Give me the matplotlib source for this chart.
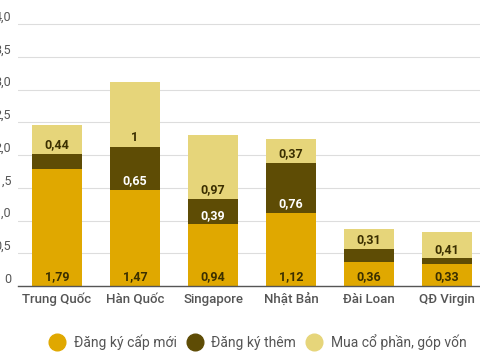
import matplotlib
matplotlib.use("Agg")
import matplotlib.pyplot as plt
import matplotlib.transforms as mtransforms
from matplotlib.lines import Line2D

plt.rcParams['font.family'] = ['Roboto', 'DejaVu Sans']

countries = ["Trung Quốc", "Hàn Quốc", "Singapore", "Nhật Bản", "Đài Loan", "QĐ Virgin"]
new_reg = [1.79, 1.47, 0.94, 1.12, 0.36, 0.33]
added_reg = [0.23, 0.65, 0.39, 0.76, 0.20, 0.09]
shares = [0.44, 1.00, 0.97, 0.37, 0.31, 0.41]
series_names = ["Đăng ký cấp mới", "Đăng ký thêm", "Mua cổ phần, góp vốn"]
yticks = [0, 0.5, 1.0, 1.5, 2.0, 2.5, 3.0, 3.5, 4.0]

colors = ["#e0a800", "#5e4c05", "#e6d57a"]
text_colors = ["#3b2f00", "#ffffff", "#3b2f00"]

fig = plt.figure(figsize=(4.8, 3.6), dpi=100)
ax = fig.add_axes([18 / 480, 74 / 360, 468 / 480, 286 / 360])

x = list(range(len(countries)))
width = 0.63
bottoms = [0] * len(countries)
for vals, col, tcol in zip([new_reg, added_reg, shares], colors, text_colors):
    ax.bar(x, vals, width, bottom=bottoms, color=col, zorder=2)
    for i, v in enumerate(vals):
        # small segments carry no label in the reference
        if v >= 0.3:
            txt = "1" if v == 1 else f"{v:.2f}".replace(".", ",")
            ax.annotate(txt, (i, bottoms[i]), xytext=(0, 2), textcoords="offset points",
                        ha="center", va="bottom", fontsize=9, color=tcol,
                        fontweight="bold", zorder=3)
    bottoms = [b + v for b, v in zip(bottoms, vals)]

ax.set_xlim(-0.5, len(countries) - 0.5)
ax.set_ylim(0, 286 / 65.5)
ax.set_yticks(yticks)
ax.set_yticklabels([("0" if t == 0 else f"{t:.1f}".replace(".", ",")) for t in yticks])
ax.yaxis.grid(True, color="#dddddd", lw=0.8, zorder=0)
ax.set_axisbelow(True)
for s in ["top", "right", "left"]:
    ax.spines[s].set_visible(False)
ax.spines["bottom"].set_color("#555555")
ax.spines["bottom"].set_linewidth(1.0)
ax.tick_params(axis="y", length=0, pad=5, labelsize=9, labelcolor="#555555")
ax.tick_params(axis="x", length=0, pad=5, labelsize=9.5, labelcolor="#555555")
ax.set_xticks(x)
ax.set_xticklabels(countries, fontweight="medium")
off = mtransforms.ScaledTranslation(0, 6 / 72, fig.dpi_scale_trans)
for lab in ax.get_yticklabels():
    lab.set_transform(lab.get_transform() + off)

handles = [Line2D([], [], marker="o", ls="", markersize=12, color=c) for c in colors]
leg = fig.legend(handles, series_names, loc="center", bbox_to_anchor=(0.537, 18 / 360), ncol=3,
                 frameon=False, fontsize=10, handlelength=1.2, handletextpad=0.6,
                 columnspacing=0.7)
for t in leg.get_texts():
    t.set_color("#555555")

fig.savefig("out.png", dpi=100)
